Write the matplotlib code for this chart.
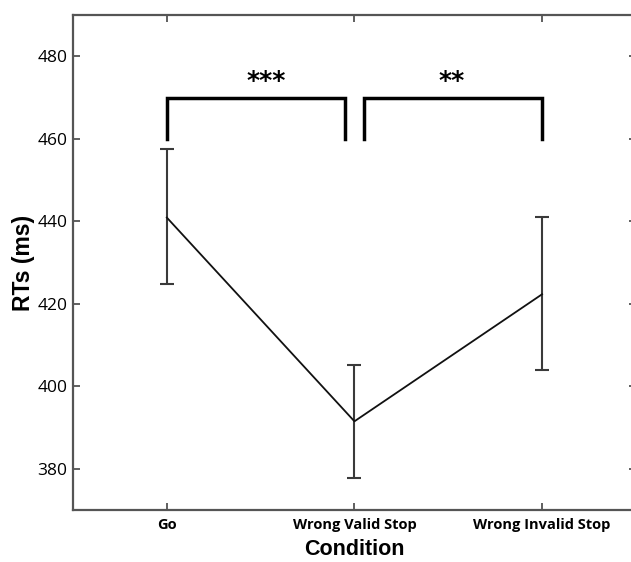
import matplotlib
matplotlib.use("Agg")
import matplotlib.pyplot as plt

conditions = ["Go", "Wrong Valid Stop", "Wrong Invalid Stop"]
rt_mean = [440.9, 391.5, 422.3]
rt_low = [424.7, 377.7, 404.0]
rt_high = [457.5, 405.2, 441.0]

# significance brackets: (x start, x end, stars)
brackets = [(0.0, 0.95, "***"), (1.05, 2.0, "**")]
star_x = [0.53, 1.52]
bracket_base = 460
bracket_top = 470

fig = plt.figure(figsize=(6.31, 5.62), dpi=100)
ax = fig.add_axes([0.1157, 0.0925, 0.892, 0.8808])

x = list(range(len(conditions)))
err_lo = [m - l for m, l in zip(rt_mean, rt_low)]
err_hi = [h - m for m, h in zip(rt_mean, rt_high)]

ax.errorbar(x, rt_mean, yerr=[err_lo, err_hi], fmt="none", ecolor="#3a3a3a",
            elinewidth=1.5, capsize=5, capthick=1.5)
ax.plot(x, rt_mean, color="#111111", lw=1.3)

for (x0, x1, s), sx in zip(brackets, star_x):
    ax.plot([x0, x0, x1, x1], [bracket_base, bracket_top, bracket_top, bracket_base],
            color="black", lw=2.5, solid_joinstyle="miter")
    ax.text(sx, 471.2, s, ha="center", va="bottom", fontsize=18, fontweight="bold",
            family="DejaVu Sans")

ax.set_xlim(-0.5, 2.5)
ax.set_ylim(370, 490)
ax.set_yticks([380, 400, 420, 440, 460, 480])
ax.set_xticks(x)
ax.set_xticklabels(conditions, family="Open Sans", fontweight="bold", fontsize=10.5)
for lab in ax.get_yticklabels():
    lab.set_family("Open Sans")
    lab.set_fontsize(12.5)

ax.tick_params(direction="in", length=5, width=1.2, color="#444444",
               top=True, right=True, pad=4)
ax.tick_params(axis="x", pad=6)
for sp in ax.spines.values():
    sp.set_color("#555555")
    sp.set_linewidth(1.6)
ax.spines["right"].set_visible(False)

ax.set_xlabel("Condition", family="Liberation Sans", fontweight="bold", fontsize=15.5, labelpad=5)
ax.set_ylabel("RTs (ms)", family="Liberation Sans", fontweight="bold", fontsize=16.5, labelpad=2)

fig.savefig("out.png", dpi=100)
